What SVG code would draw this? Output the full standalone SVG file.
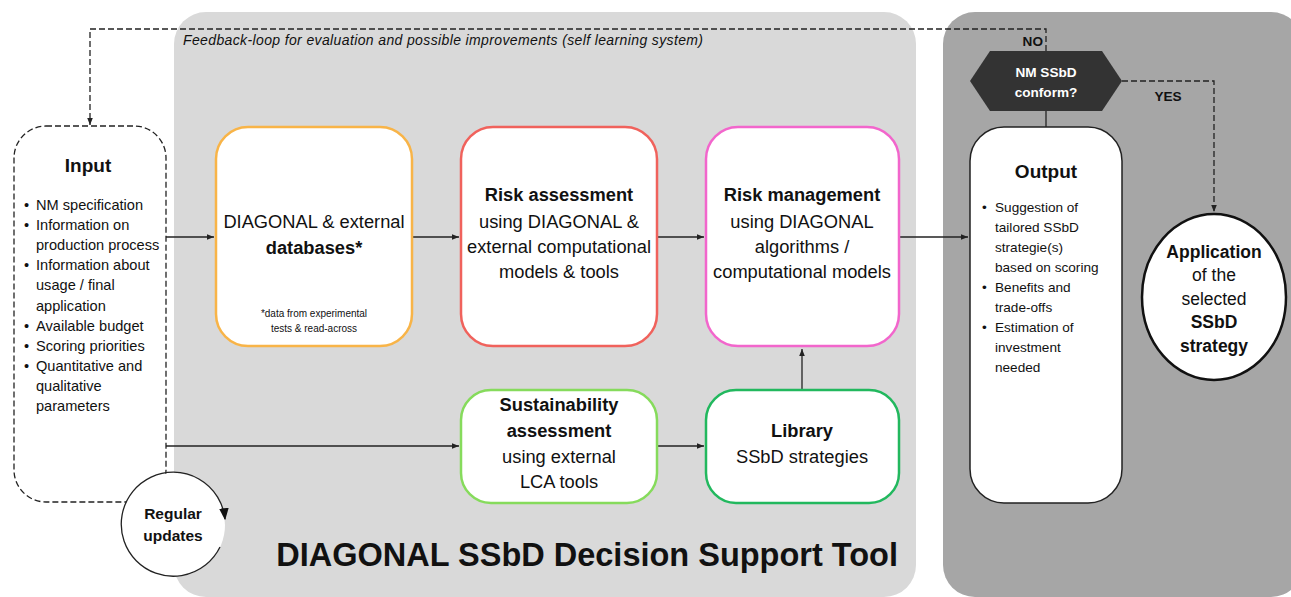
<svg xmlns="http://www.w3.org/2000/svg" width="1291" height="597" viewBox="0 0 1291 597">
<style>
text{font-family:"Liberation Sans",Arial,sans-serif;fill:#111}
.b{font-weight:bold}
.c{text-anchor:middle}
.n{font-size:18.3px}
.s{font-size:14.6px}
.o{font-size:13.6px}
.box{fill:#fff;stroke-width:2.5}
.ln{fill:none;stroke:#222;stroke-width:1.3}
.dash{fill:none;stroke:#222;stroke-width:1.3;stroke-dasharray:6 3}
</style>
<defs>
<marker id="ah" viewBox="0 0 10 10" refX="10" refY="5" markerWidth="7" markerHeight="7" markerUnits="userSpaceOnUse" orient="auto"><path d="M0,1 L10,5 L0,9 Z" fill="#222"/></marker>
<marker id="ahb" viewBox="0 0 10 10" refX="9" refY="5" markerWidth="12" markerHeight="12" markerUnits="userSpaceOnUse" orient="auto"><path d="M0,1 L10,5 L0,9 Z" fill="#111"/></marker>
</defs>
<rect width="1291" height="597" fill="#fff"/>
<g id="panel-tool">
<rect x="174" y="12" width="742" height="585" rx="32" fill="#d9d9d9"/>
<text x="898" y="566" class="b" text-anchor="end" font-size="32.5">DIAGONAL SSbD Decision Support Tool</text>
<text x="183" y="45" font-style="italic" font-size="14" textLength="520" fill="#222">Feedback-loop for evaluation and possible improvements (self learning system)</text>
</g>
<g id="panel-out">
<rect x="943" y="12" width="360" height="585" rx="32" fill="#a6a6a6"/>
</g>
<g id="connectors">
<path class="dash" d="M1046,51 V29 H90 V125" marker-end="url(#ah)"/>
<path class="dash" d="M1122,81 H1214 V212" marker-end="url(#ah)"/>
<path class="ln" d="M1046,111 V127"/>
<path class="ln" d="M166,237 H214" marker-end="url(#ah)"/>
<path class="ln" d="M412,237 H459" marker-end="url(#ah)"/>
<path class="ln" d="M657,237 H704" marker-end="url(#ah)"/>
<path class="ln" d="M899,237 H968" marker-end="url(#ah)"/>
<path class="ln" d="M166,446 H459" marker-end="url(#ah)"/>
<path class="ln" d="M657,446 H704" marker-end="url(#ah)"/>
<path class="ln" d="M802,389 V349" marker-end="url(#ah)"/>
<text x="1043" y="46" class="b o" text-anchor="end">NO</text>
<text x="1168" y="101" class="b o c">YES</text>
</g>
<g id="input">
<rect x="14" y="126" width="152" height="376" rx="32" fill="#fff" stroke="#222" stroke-width="1.3" stroke-dasharray="6 3"/>
<text x="88" y="172" class="b c" font-size="19">Input</text>
<g class="s">
<text x="24" y="210">•</text><text x="36" y="210">NM specification</text>
<text x="24" y="230">•</text><text x="36" y="230">Information on</text>
<text x="36" y="250">production process</text>
<text x="24" y="270">•</text><text x="36" y="270">Information about</text>
<text x="36" y="290">usage / final</text>
<text x="36" y="311">application</text>
<text x="24" y="331">•</text><text x="36" y="331">Available budget</text>
<text x="24" y="351">•</text><text x="36" y="351">Scoring priorities</text>
<text x="24" y="371">•</text><text x="36" y="371">Quantitative and</text>
<text x="36" y="391">qualitative</text>
<text x="36" y="411">parameters</text>
</g>
</g>
<g id="updates">
<circle cx="173" cy="525" r="52" fill="#fff"/>
<path d="M220,547 A52,52 0 1 1 225,519" fill="none" stroke="#222" stroke-width="1.3" marker-end="url(#ahb)"/>
<text x="173" y="519" class="b c" font-size="15.5">Regular</text>
<text x="173" y="541" class="b c" font-size="15.5">updates</text>
</g>
<g id="databases">
<rect x="216" y="127" width="196" height="219" rx="32" class="box" stroke="#f8b448"/>
<text x="314" y="228" class="c n">DIAGONAL &amp; external</text>
<text x="314" y="254" class="c n b">databases*</text>
<text x="314" y="317" class="c" font-size="10">*data from experimental</text>
<text x="314" y="332" class="c" font-size="10">tests &amp; read-across</text>
</g>
<g id="risk-assessment">
<rect x="461" y="127" width="196" height="219" rx="32" class="box" stroke="#f0625c"/>
<text x="559" y="201" class="c n b">Risk assessment</text>
<text x="559" y="228" class="c n">using DIAGONAL &amp;</text>
<text x="559" y="253" class="c n">external computational</text>
<text x="559" y="278" class="c n">models &amp; tools</text>
</g>
<g id="risk-management">
<rect x="706" y="127" width="193" height="219" rx="32" class="box" stroke="#f266cc"/>
<text x="802" y="201" class="c n b">Risk management</text>
<text x="802" y="228" class="c n">using DIAGONAL</text>
<text x="802" y="253" class="c n">algorithms /</text>
<text x="802" y="278" class="c n">computational models</text>
</g>
<g id="sustainability">
<rect x="461" y="390" width="196" height="113" rx="30" class="box" stroke="#86db5c"/>
<text x="559" y="411" class="c n b">Sustainability</text>
<text x="559" y="437" class="c n b">assessment</text>
<text x="559" y="463" class="c n">using external</text>
<text x="559" y="488" class="c n">LCA tools</text>
</g>
<g id="library">
<rect x="706" y="390" width="193" height="113" rx="30" class="box" stroke="#22b85e"/>
<text x="802" y="437" class="c n b">Library</text>
<text x="802" y="463" class="c n">SSbD strategies</text>
</g>
<g id="decision">
<polygon points="970,81 990,51 1102,51 1122,81 1102,111 990,111" fill="#333"/>
<text x="1046" y="77" class="c b o" style="fill:#fff">NM SSbD</text>
<text x="1046" y="97" class="c b o" style="fill:#fff">conform?</text>
</g>
<g id="output">
<rect x="970" y="127" width="152" height="376" rx="34" fill="#fff" stroke="#222" stroke-width="1.5"/>
<text x="1046" y="178" class="b c" font-size="19">Output</text>
<g class="o">
<text x="982" y="212">•</text><text x="995" y="212">Suggestion of</text>
<text x="995" y="232">tailored SSbD</text>
<text x="995" y="252">strategie(s)</text>
<text x="995" y="272">based on scoring</text>
<text x="982" y="292">•</text><text x="995" y="292">Benefits and</text>
<text x="995" y="312">trade-offs</text>
<text x="982" y="332">•</text><text x="995" y="332">Estimation of</text>
<text x="995" y="352">investment</text>
<text x="995" y="372">needed</text>
</g>
</g>
<g id="application">
<ellipse cx="1214" cy="297" rx="72" ry="83" fill="#fff" stroke="#111" stroke-width="2.5"/>
<text x="1214" y="258" class="c b" font-size="17.5">Application</text>
<text x="1214" y="281" class="c" font-size="17.5">of the</text>
<text x="1214" y="305" class="c" font-size="17.5">selected</text>
<text x="1214" y="328" class="c b" font-size="17.5">SSbD</text>
<text x="1214" y="352" class="c b" font-size="17.5">strategy</text>
</g>
</svg>
